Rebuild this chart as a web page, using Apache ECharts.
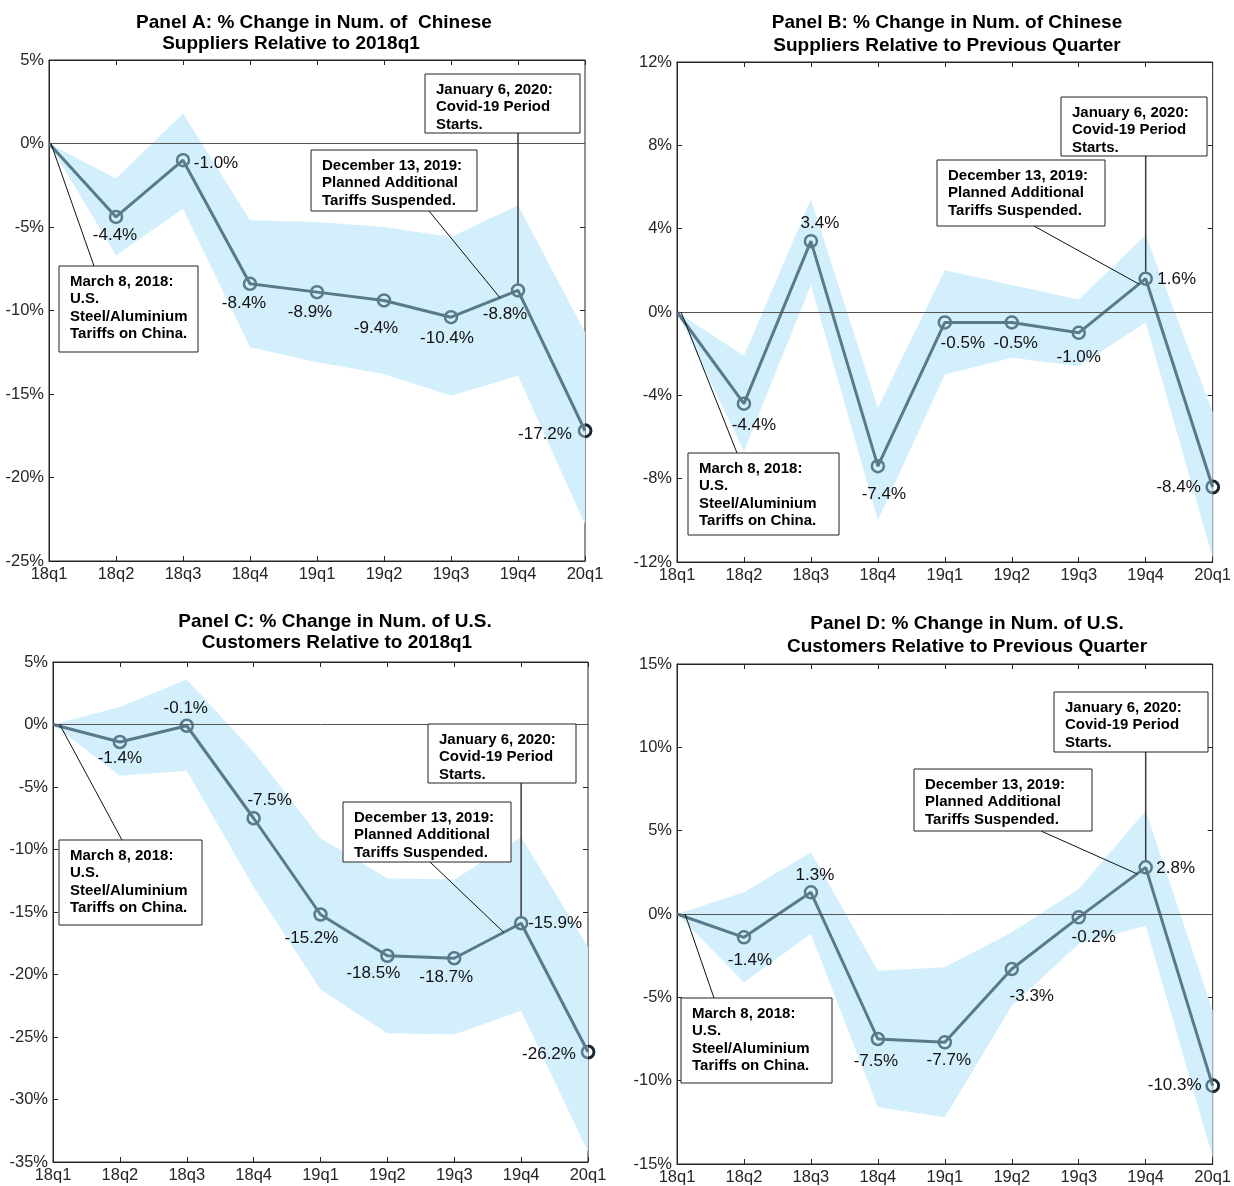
<!DOCTYPE html>
<html>
<head>
<meta charset="utf-8">
<title>Chinese suppliers and U.S. customers</title>
<script src="https://cdn.jsdelivr.net/npm/echarts@6/dist/echarts.min.js"></script>
<style>
	html, body { margin: 0; padding: 0; background: #ffffff; }
	#chart { width: 1234px; height: 1186px; }
</style>
</head>
<body>
<div id="chart"></div>
<script>
	var quarters = ['18q1', '18q2', '18q3', '18q4', '19q1', '19q2', '19q3', '19q4', '20q1'];

	// Panel A: Chinese suppliers relative to 2018q1
	var panelAValues = [0, -4.4, -1.0, -8.4, -8.9, -9.4, -10.4, -8.8, -17.2];
	var panelAUpper = [0, -2.1, 1.8, -4.6, -4.7, -5.0, -5.6, -3.7, -11.3];
	var panelALower = [0, -6.7, -3.9, -12.2, -13.1, -13.8, -15.1, -13.9, -22.8];

	// Panel B: Chinese suppliers relative to previous quarter
	var panelBValues = [0, -4.4, 3.4, -7.4, -0.5, -0.5, -1.0, 1.6, -8.4];
	var panelBUpper = [0, -2.1, 5.4, -4.6, 2.0, 1.3, 0.6, 3.7, -4.8];
	var panelBLower = [0, -6.7, 1.3, -10.0, -3.0, -2.2, -2.6, -0.5, -11.8];

	// Panel C: U.S. customers relative to 2018q1
	var panelCValues = [0, -1.4, -0.1, -7.5, -15.2, -18.5, -18.7, -15.9, -26.2];
	var panelCUpper = [0, 1.4, 3.6, -2.2, -9.1, -12.3, -12.4, -9.0, -17.8];
	var panelCLower = [0, -4.1, -3.7, -13.0, -21.2, -24.7, -24.8, -22.9, -34.2];

	// Panel D: U.S. customers relative to previous quarter
	var panelDValues = [0, -1.4, 1.3, -7.5, -7.7, -3.3, -0.2, 2.8, -10.3];
	var panelDUpper = [0, 1.3, 3.7, -3.4, -3.2, -1.1, 1.5, 6.2, -5.8];
	var panelDLower = [0, -4.1, -1.2, -11.6, -12.2, -5.5, -1.8, -0.7, -14.6];

	var marchText = 'March 8, 2018:\nU.S.\nSteel/Aluminium\nTariffs on China.';
	var decemberText = 'December 13, 2019:\nPlanned Additional\nTariffs Suspended.';
	var januaryText = 'January 6, 2020:\nCovid-19 Period\nStarts.';

	var fontFamily = '"Liberation Sans", Arial, Helvetica, sans-serif';
	var lineColor = '#587a8b';
	var bandColor = '#d3effc';
	var lastMarkerColor = '#1b2631';
	var axisColor = '#262626';

	var panels = [
		{
			titleLines: ['Panel A: % Change in Num. of  Chinese', 'Suppliers Relative to 2018q1'],
			titleX: [314, 291], titleY: [23, 44],
			grid: {left: 49, top: 60, width: 536, height: 501},
			yMin: -25, yMax: 5, yInterval: 5,
			values: panelAValues, upper: panelAUpper, lower: panelALower,
			labelOffsets: [[0, 0], [-1, 18], [33, 3], [-6, 20], [-7, 20], [-8, 28], [-4, 21], [-13, 24], [-40, 4]],
			march: {box: [59, 266, 139, 86], start: [94, 266], target: [0.03, 0]},
			december: {box: [311, 150, 166, 61], start: [429, 211], fraction: 0.73},
			january: {box: [425, 74, 155, 59]}
		},
		{
			titleLines: ['Panel B: % Change in Num. of Chinese', 'Suppliers Relative to Previous Quarter'],
			titleX: [947, 947], titleY: [23, 46],
			grid: {left: 677, top: 62, width: 537, height: 500},
			yMin: -12, yMax: 12, yInterval: 4,
			values: panelBValues, upper: panelBUpper, lower: panelBLower,
			labelOffsets: [[0, 0], [10, 22], [9, -18], [6, 28], [18, 21], [4, 21], [0, 24], [31, 1], [-34, 0]],
			march: {box: [688, 453, 151, 82], start: [737, 453], target: [0.06, 0]},
			december: {box: [937, 160, 168, 66], start: [1034, 226], fraction: 0.9},
			january: {box: [1061, 97, 146, 59]}
		},
		{
			titleLines: ['Panel C: % Change in Num. of U.S.', 'Customers Relative to 2018q1'],
			titleX: [335, 337], titleY: [622, 643],
			grid: {left: 53, top: 662, width: 535, height: 500},
			yMin: -35, yMax: 5, yInterval: 5,
			values: panelCValues, upper: panelCUpper, lower: panelCLower,
			labelOffsets: [[0, 0], [0, 16], [-1, -17], [16, -18], [-9, 24], [-14, 18], [-8, 19], [34, 0], [-39, 2]],
			march: {box: [59, 840, 143, 85], start: [122, 840], target: [0.1, 0]},
			december: {box: [343, 802, 168, 60], start: [430, 862], fraction: 0.74},
			january: {box: [428, 724, 148, 59]}
		},
		{
			titleLines: ['Panel D: % Change in Num. of U.S.', 'Customers Relative to Previous Quarter'],
			titleX: [967, 967], titleY: [624, 647],
			grid: {left: 677, top: 664, width: 537, height: 501},
			yMin: -15, yMax: 15, yInterval: 5,
			values: panelDValues, upper: panelDUpper, lower: panelDLower,
			labelOffsets: [[0, 0], [6, 23], [4, -17], [-2, 22], [4, 18], [20, 27], [15, 20], [30, 1], [-38, 0]],
			march: {box: [681, 998, 151, 85], start: [714, 998], target: [0.12, 0]},
			december: {box: [914, 769, 178, 62], start: [1041, 831], fraction: 0.87},
			january: {box: [1054, 692, 154, 60]}
		}
	];

	var chart = echarts.init(document.getElementById('chart'), null, {renderer: 'canvas'});

	var grids = [], xAxes = [], yAxes = [], series = [];

	function axisCommon(){
		return {
			axisLine: {show: true, onZero: false, lineStyle: {color: axisColor, width: 1}},
			axisTick: {show: true, inside: true, length: 5, lineStyle: {color: axisColor, width: 1}},
			splitLine: {show: false}
		};
	}

	// one polygon per panel: upper edge left to right, lower edge back
	function renderBand(params, api){
		if(params.dataIndexInside !== 0){
			return {type: 'group', children: []};
		}
		var n = params.dataInsideLength;
		var upperPts = [], lowerPts = [];
		for(var i = 0; i < n; i++){
			var x = api.value(0, i);
			upperPts.push(api.coord([x, api.value(2, i)]));
			lowerPts.push(api.coord([x, api.value(1, i)]));
		}
		return {
			type: 'polygon',
			shape: {points: upperPts.concat(lowerPts.reverse())},
			style: {fill: bandColor, stroke: null}
		};
	}

	panels.forEach(function(panel, k){
		grids.push({
			left: panel.grid.left, top: panel.grid.top,
			width: panel.grid.width, height: panel.grid.height,
			show: true, borderColor: axisColor, borderWidth: 1
		});

		// bottom and top x axes (ticks inside on both)
		var xBottom = axisCommon();
		xBottom.type = 'value'; xBottom.gridIndex = k; xBottom.position = 'bottom';
		xBottom.min = 0; xBottom.max = quarters.length - 1; xBottom.interval = 1;
		xBottom.axisLabel = {show: true, margin: 5, color: axisColor, fontSize: 16.5, fontFamily: fontFamily,
			formatter: function(v){ return quarters[v] || ''; }};
		xAxes.push(xBottom);

		var xTop = axisCommon();
		xTop.type = 'value'; xTop.gridIndex = k; xTop.position = 'top';
		xTop.min = 0; xTop.max = quarters.length - 1; xTop.interval = 1;
		xTop.axisLabel = {show: false};
		xAxes.push(xTop);

		// left and right y axes
		var yLeft = axisCommon();
		yLeft.type = 'value'; yLeft.gridIndex = k; yLeft.position = 'left';
		yLeft.min = panel.yMin; yLeft.max = panel.yMax; yLeft.interval = panel.yInterval;
		yLeft.axisLabel = {show: true, margin: 5, color: axisColor, fontSize: 16.5, fontFamily: fontFamily,
			formatter: function(v){ return v + '%'; }};
		yAxes.push(yLeft);

		// right side: the grid border is the axis line, so the band can cover it
		var yRight = axisCommon();
		yRight.type = 'value'; yRight.gridIndex = k; yRight.position = 'right';
		yRight.min = panel.yMin; yRight.max = panel.yMax; yRight.interval = panel.yInterval;
		yRight.axisLine = {show: false, onZero: false};
		yRight.axisLabel = {show: false};
		yAxes.push(yRight);

		// confidence band
		series.push({
			type: 'custom', xAxisIndex: 2 * k, yAxisIndex: 2 * k, z: 1, silent: true,
			renderItem: renderBand,
			encode: {x: 0, y: [1, 2]},
			data: panel.lower.map(function(v, i){ return [i, v, panel.upper[i]]; })
		});

		// zero line
		series.push({
			type: 'line', xAxisIndex: 2 * k, yAxisIndex: 2 * k,
			data: [[0, 0]], symbol: 'none', lineStyle: {opacity: 0}, silent: true, z: 2,
			markLine: {
				silent: true, symbol: 'none', label: {show: false},
				lineStyle: {color: '#555555', width: 1, type: 'solid'},
				data: [{yAxis: 0}]
			}
		});

		series.push({
			type: 'line', xAxisIndex: 2 * k, yAxisIndex: 2 * k, z: 3,
			data: panel.values.map(function(v, i){
				var item = {value: [i, v], label: {offset: panel.labelOffsets[i]}};
				if(i === 0){
					item.symbol = 'none';
					item.label.show = false;
				}
				return item;
			}),
			symbol: 'circle', symbolSize: 12, showAllSymbol: true,
			itemStyle: {color: 'rgba(0,0,0,0)', borderColor: lineColor, borderWidth: 2.5},
			lineStyle: {color: lineColor, width: 3},
			label: {
				show: true, position: 'inside', color: '#111111', fontSize: 17, fontFamily: fontFamily,
				formatter: function(p){ return p.value[1].toFixed(1) + '%'; }
			},
			emphasis: {disabled: true}
		});
	});

	chart.setOption({
		animation: false,
		backgroundColor: '#ffffff',
		grid: grids,
		xAxis: xAxes,
		yAxis: yAxes,
		series: series
	});

	// titles, annotation boxes and leader lines
	var graphics = [];

	function addBox(box, text){
		graphics.push({
			type: 'rect', z: 60, silent: true,
			shape: {x: box[0], y: box[1], width: box[2], height: box[3]},
			style: {fill: '#ffffff', stroke: '#222222', lineWidth: 1}
		});
		graphics.push({
			type: 'text', z: 61, silent: true, x: box[0] + 11, y: box[1] + 7,
			style: {text: text, fill: '#000000', fontSize: 15, fontWeight: 'bold', fontFamily: fontFamily,
				lineHeight: 17.4, align: 'left', verticalAlign: 'top'}
		});
	}

	function addLeader(x1, y1, x2, y2, color, width){
		graphics.push({
			type: 'line', z: 50, silent: true,
			shape: {x1: x1, y1: y1, x2: x2, y2: y2},
			style: {stroke: color, lineWidth: width}
		});
	}

	panels.forEach(function(panel, k){
		panel.titleLines.forEach(function(t, j){
			graphics.push({
				type: 'text', z: 70, silent: true, x: panel.titleX[j], y: panel.titleY[j],
				style: {text: t, fill: '#000000', fontSize: 19, fontWeight: 'bold', fontFamily: fontFamily,
					align: 'center', verticalAlign: 'middle'}
			});
		});

		var toPixel = function(pt){ return chart.convertToPixel({gridIndex: k}, pt); };

		// last marker: the half outside the axes is drawn dark
		var last = panel.values.length - 1;
		var p = toPixel([last, panel.values[last]]);
		graphics.push({
			type: 'arc', z: 55, silent: true,
			shape: {cx: p[0], cy: p[1], r: 6, startAngle: -Math.PI / 2, endAngle: Math.PI / 2, clockwise: true},
			style: {fill: null, stroke: lastMarkerColor, lineWidth: 2.8}
		});

		// March 8, 2018
		var m = toPixel(panel.march.target);
		addLeader(panel.march.start[0], panel.march.start[1], m[0], m[1], '#111111', 1);
		addBox(panel.march.box, marchText);

		// December 13, 2019: a point on the line between 19q3 and 19q4
		var f = panel.december.fraction;
		var decValue = panel.values[6] + f * (panel.values[7] - panel.values[6]);
		var d = toPixel([6 + f, decValue]);
		addLeader(panel.december.start[0], panel.december.start[1], d[0], d[1], '#111111', 1);
		addBox(panel.december.box, decemberText);

		// January 6, 2020: vertical line down to the 19q4 marker
		var j = toPixel([7, panel.values[7]]);
		var janBox = panel.january.box;
		addLeader(j[0], janBox[1] + janBox[3], j[0], j[1] - 7, '#3a3a3a', 1.5);
		addBox(janBox, januaryText);
	});

	chart.setOption({graphic: graphics});
</script>
</body>
</html>
